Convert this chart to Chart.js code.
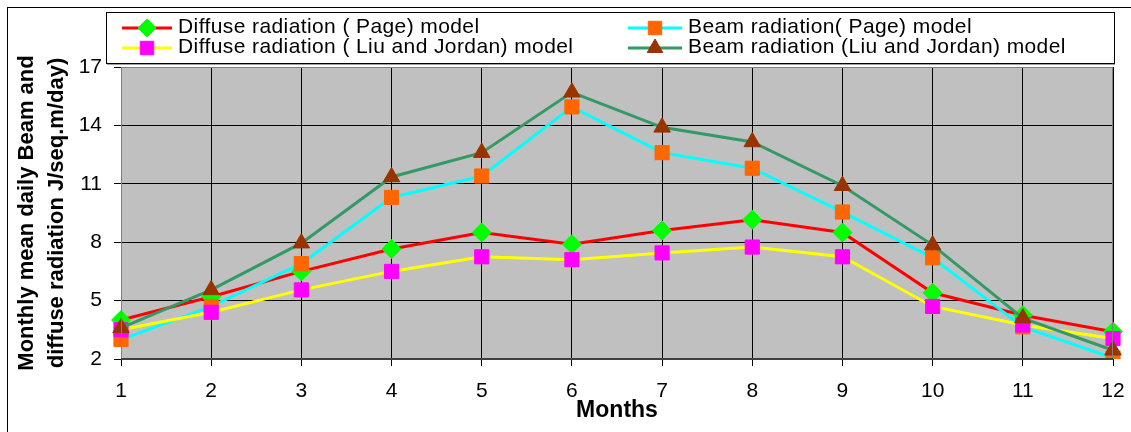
<!DOCTYPE html>
<html>
<head>
<meta charset="utf-8">
<script src="https://cdn.jsdelivr.net/npm/chart.js@4/dist/chart.umd.min.js"></script>
<style>
  html, body { margin: 0; padding: 0; background: #fff; }
  #wrap { width: 1131px; height: 432px; position: relative; }
</style>
</head>
<body>
<div id="wrap"><canvas id="radChart" width="1131" height="432"></canvas></div>
<script>
// values
var months = ['1', '2', '3', '4', '5', '6', '7', '8', '9', '10', '11', '12'];
var diffusePage = [4.0, 5.2, 6.5, 7.65, 8.5, 7.9, 8.6, 9.15, 8.5, 5.4, 4.25, 3.4];
var beamPage    = [3.0, 4.7, 6.9, 10.3, 11.4, 14.95, 12.6, 11.8, 9.55, 7.2, 3.65, 2.05];
var diffuseLJ   = [3.5, 4.4, 5.55, 6.5, 7.25, 7.1, 7.45, 7.75, 7.25, 4.7, 3.75, 3.05];
var beamLJ      = [3.6, 5.55, 7.95, 11.35, 12.6, 15.7, 13.9, 13.15, 10.9, 7.85, 4.1, 2.45];
var yTicks = [2, 5, 8, 11, 14, 17];

var FONT = "'Liberation Sans', Arial, sans-serif";

// grey plot area and the outer frame
var backdrop = {
    id: 'backdrop',
    beforeDraw: function (chart) {
        var ctx = chart.ctx, a = chart.chartArea;
        ctx.save();
        ctx.fillStyle = '#fff';
        ctx.fillRect(0, 0, chart.width, chart.height);
        ctx.strokeStyle = '#000';
        ctx.lineWidth = 1;
        ctx.strokeRect(7.5, 7.5, 1300, 600);
        ctx.fillStyle = '#c0c0c0';
        ctx.fillRect(a.left, a.top, a.right - a.left, a.bottom - a.top);
        ctx.restore();
    },
    afterDatasetsDraw: function (chart) {
        var ctx = chart.ctx, a = chart.chartArea;
        ctx.save();
        ctx.strokeStyle = '#808080';
        ctx.lineWidth = 1;
        ctx.strokeRect(a.left + 0.5, a.top + 0.5, a.right - a.left - 1, a.bottom - a.top);
        ctx.strokeStyle = '#404040';
        ctx.lineWidth = 2;
        ctx.beginPath();
        ctx.moveTo(a.left, a.bottom);
        ctx.lineTo(a.right, a.bottom);
        ctx.stroke();
        ctx.restore();
    }
};

// two-column legend with line + marker samples, like the spreadsheet one
var boxLegend = {
    id: 'boxLegend',
    afterDraw: function (chart) {
        var ctx = chart.ctx;
        var slots = [
            {x1: 122, x2: 172, tx: 178, y: 28},
            {x1: 628, x2: 682, tx: 688, y: 28},
            {x1: 122, x2: 172, tx: 178, y: 48},
            {x1: 628, x2: 682, tx: 688, y: 48}
        ];
        ctx.save();
        ctx.fillStyle = '#fff';
        ctx.fillRect(106, 12, 1008, 51);
        ctx.strokeStyle = '#000';
        ctx.lineWidth = 1;
        ctx.strokeRect(106.5, 12.5, 1008, 51);
        ctx.strokeStyle = '#a0a0a0';
        ctx.beginPath();
        ctx.moveTo(107, 64.5);
        ctx.lineTo(1115, 64.5);
        ctx.stroke();
        chart.data.datasets.forEach(function (ds, i) {
            var s = slots[i];
            ctx.strokeStyle = ds.borderColor;
            ctx.lineWidth = 3;
            ctx.beginPath();
            ctx.moveTo(s.x1, s.y);
            ctx.lineTo(s.x2, s.y);
            ctx.stroke();
            ctx.fillStyle = ds.pointBackgroundColor;
            ctx.strokeStyle = ds.pointBorderColor;
            ctx.lineWidth = 1;
            Chart.helpers.drawPoint(ctx, {pointStyle: ds.pointStyle, rotation: 0, radius: ds.pointRadius - 0.5, borderWidth: 1},
                (s.x1 + s.x2) / 2, s.y);
            ctx.fillStyle = '#000';
            ctx.font = '21px ' + FONT;
            ctx.letterSpacing = '0.4px';
            ctx.textBaseline = 'middle';
            ctx.textAlign = 'left';
            ctx.fillText(ds.label, s.tx, s.y - 1);
        });
        ctx.restore();
    }
};

function series(label, data, lineColor, markColor, style, radius, order) {
    return {
        label: label,
        data: data,
        borderColor: lineColor,
        borderWidth: 3,
        pointStyle: style,
        pointRadius: radius,
        pointHoverRadius: radius,
        pointBackgroundColor: markColor,
        pointBorderColor: markColor,
        pointBorderWidth: 1,
        tension: 0,
        fill: false,
        order: order
    };
}

var ctx = document.getElementById('radChart');
new Chart(ctx, {
    type: 'line',
    data: {
        labels: months,
        datasets: [
            series('Diffuse radiation ( Page) model', diffusePage, '#ff0000', '#00ff00', 'rectRot', 9.5, 4),
            series('Beam radiation( Page) model', beamPage, '#00ffff', '#ff6600', 'rect', 10, 3),
            series('Diffuse radiation ( Liu and Jordan) model', diffuseLJ, '#ffff00', '#ff00ff', 'rect', 10, 2),
            series('Beam radiation (Liu and Jordan) model', beamLJ, '#339966', '#993300', 'triangle', 9.5, 1)
        ]
    },
    options: {
        responsive: false,
        animation: false,
        events: [],
        layout: { padding: { left: 0, right: 18, top: 67, bottom: 0 } },
        plugins: {
            legend: { display: false },
            tooltip: { enabled: false }
        },
        scales: {
            x: {
                offset: false,
                grid: { color: '#000', lineWidth: 1, tickLength: 7, offset: false },
                border: { display: false },
                ticks: { color: '#000', font: { family: FONT, size: 21 }, padding: 13, maxRotation: 0, autoSkip: false },
                title: { display: true, text: 'Months', color: '#000', font: { family: FONT, size: 23, weight: 'bold', lineHeight: 1.0 }, padding: { top: 0, bottom: 10 } },
                afterFit: function (scale) {
                    scale.height = 73;
                    scale.paddingLeft = 0;
                    scale.paddingRight = 0;
                }
            },
            y: {
                min: 2,
                max: 17,
                grid: { color: '#000', lineWidth: 1, tickLength: 7 },
                border: { display: false },
                afterBuildTicks: function (scale) {
                    scale.ticks = yTicks.map(function (v) { return { value: v }; });
                },
                ticks: { color: '#000', font: { family: FONT, size: 21 }, padding: 12 },
                title: {
                    display: true,
                    text: ['Monthly mean daily Beam and', 'diffuse radiation J/seq.m/day)'],
                    color: '#000',
                    font: { family: FONT, size: 22, weight: 'bold', lineHeight: 1.364 },
                    padding: { top: 12, bottom: 0 }
                },
                afterFit: function (scale) {
                    scale.width = 121;
                    scale.paddingTop = 0;
                    scale.paddingBottom = 0;
                }
            }
        }
    },
    plugins: [backdrop, boxLegend]
});
</script>
</body>
</html>
